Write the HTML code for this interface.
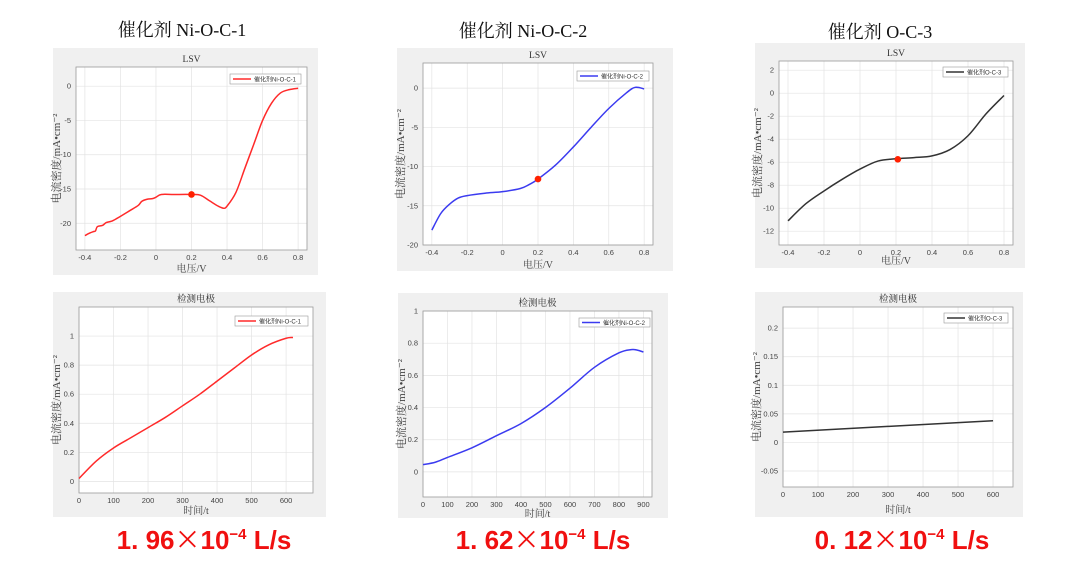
<!DOCTYPE html>
<html><head><meta charset="utf-8"><style>
html,body{margin:0;padding:0;background:#fff;}
svg{display:block;}
.rate{font-family:"Liberation Sans","Noto Sans CJK SC",sans-serif;font-size:26px;font-weight:bold;fill:#f01010;}
</style></head><body>
<svg id="fig" width="1080" height="573" viewBox="0 0 1080 573" xmlns="http://www.w3.org/2000/svg">
<text x="182" y="36" text-anchor="middle" font-family="Liberation Serif,'Noto Serif CJK SC',serif" font-size="18" fill="#111">催化剂 Ni-O-C-1</text>
<text x="523" y="37" text-anchor="middle" font-family="Liberation Serif,'Noto Serif CJK SC',serif" font-size="18" fill="#111">催化剂 Ni-O-C-2</text>
<text x="880" y="38" text-anchor="middle" font-family="Liberation Serif,'Noto Serif CJK SC',serif" font-size="18" fill="#111">催化剂 O-C-3</text>
<text x="204" y="549" text-anchor="middle" class="rate">1. 96<tspan font-family="Noto Sans CJK SC,sans-serif" font-weight="normal">×</tspan>10<tspan font-size="15" dy="-10">−4</tspan><tspan dy="10"> L/s</tspan></text>
<text x="543" y="549" text-anchor="middle" class="rate">1. 62<tspan font-family="Noto Sans CJK SC,sans-serif" font-weight="normal">×</tspan>10<tspan font-size="15" dy="-10">−4</tspan><tspan dy="10"> L/s</tspan></text>
<text x="902" y="549" text-anchor="middle" class="rate">0. 12<tspan font-family="Noto Sans CJK SC,sans-serif" font-weight="normal">×</tspan>10<tspan font-size="15" dy="-10">−4</tspan><tspan dy="10"> L/s</tspan></text>
</svg>
<script>
// ---- data ----
const p1x=[-0.4,-0.37,-0.35,-0.34,-0.33,-0.3,-0.28,-0.25,-0.22,-0.2,-0.15,-0.1,-0.08,-0.05,-0.02,0,0.03,0.1,0.2,0.25,0.3,0.35,0.38,0.4,0.45,0.5,0.55,0.6,0.65,0.7,0.75,0.8];
const p1y=[-21.8,-21.4,-21.2,-21.1,-20.5,-20.3,-19.9,-19.7,-19.3,-19.0,-18.2,-17.4,-16.8,-16.5,-16.4,-16.2,-15.8,-15.8,-15.8,-15.9,-16.7,-17.5,-17.8,-17.5,-15.5,-12.0,-8.5,-5.0,-2.5,-1.0,-0.5,-0.3];
const p1mark=[0.2,-15.8];
const p2x=[-0.4,-0.35,-0.3,-0.25,-0.2,-0.1,0,0.1,0.15,0.2,0.3,0.4,0.5,0.6,0.7,0.75,0.8];
const p2y=[-18.1,-16.0,-14.8,-14.0,-13.7,-13.4,-13.2,-12.8,-12.3,-11.6,-9.8,-7.5,-5.0,-2.6,-0.6,0.1,-0.1];
const p2mark=[0.2,-11.6];
const p3x=[-0.4,-0.3,-0.2,-0.1,0,0.1,0.2,0.3,0.4,0.5,0.6,0.7,0.8];
const p3y=[-11.1,-9.6,-8.5,-7.5,-6.6,-5.9,-5.7,-5.6,-5.45,-4.9,-3.7,-1.8,-0.2];
const p3mark=[0.21,-5.75];
const p4x=[0,50,100,150,200,250,300,350,400,450,500,550,600,620];
const p4y=[0.02,0.14,0.23,0.30,0.37,0.44,0.52,0.60,0.69,0.78,0.87,0.94,0.985,0.99];
const p5x=[0,50,100,200,300,400,500,600,700,800,850,875,900];
const p5y=[0.045,0.06,0.09,0.15,0.225,0.30,0.40,0.52,0.65,0.74,0.76,0.757,0.745];
const p6x=[0,600];
const p6y=[0.018,0.038];
const lsvXTicks=[-0.4,-0.2,0,0.2,0.4,0.6,0.8];
const p1YTicks=[-20,-15,-10,-5,0];
const p2YTicks=[-20,-15,-10,-5,0];
const p3YTicks=[-12,-10,-8,-6,-4,-2,0,2];
const p4XTicks=[0,100,200,300,400,500,600];
const p5XTicks=[0,100,200,300,400,500,600,700,800,900];
const p6XTicks=[0,100,200,300,400,500,600];
const p4YTicks=[0,0.2,0.4,0.6,0.8,1];
const p5YTicks=[0,0.2,0.4,0.6,0.8,1];
const p6YTicks=[-0.05,0,0.05,0.1,0.15,0.2];

const NS='http://www.w3.org/2000/svg';
const svg=document.getElementById('fig');
function mk(tag,attrs,parent){const e=document.createElementNS(NS,tag);for(const k in attrs)e.setAttribute(k,attrs[k]);(parent||svg).appendChild(e);return e;}
function fmt(v){return (Math.round(v*1000)/1000).toString();}
function smooth(pts){let d='M'+pts[0][0]+','+pts[0][1];for(let i=0;i<pts.length-1;i++){const p0=pts[i-1]||pts[i],p1=pts[i],p2=pts[i+1],p3=pts[i+2]||p2;const c1=[p1[0]+(p2[0]-p0[0])/6,p1[1]+(p2[1]-p0[1])/6],c2=[p2[0]-(p3[0]-p1[0])/6,p2[1]-(p3[1]-p1[1])/6];d+=' C'+c1+' '+c2+' '+p2;}return d;}

function panel(c){
  const g=mk('g',{});
  
  
  const bg=mk('rect',{x:c.gx,y:c.gy,width:c.gw,height:c.gh,fill:'#f0f0f0'},g);
  
  
  const L=c.l,R=c.r,T=c.t,B=c.b;
  const sx=v=>L+(v-c.xmin)/(c.xmax-c.xmin)*(R-L);
  const sy=v=>B-(v-c.ymin)/(c.ymax-c.ymin)*(B-T);
  const pa=mk('rect',{x:L,y:T,width:R-L,height:B-T,fill:'#fff'},g);
  
  
  const tf='Liberation Sans,sans-serif';
  c.xt.forEach(v=>{const x=sx(v);
    const gl=mk('line',{x1:x,x2:x,y1:T,y2:B,stroke:'#e3e3e3','stroke-width':0.7},g);
    
    
    const t=mk('text',{x:x,y:B+10,'text-anchor':'middle','font-family':tf,'font-size':7.5,fill:'#444'},g);
    t.textContent=fmt(v);
    
    });
  c.yt.forEach(v=>{const y=sy(v);
    const gl=mk('line',{x1:L,x2:R,y1:y,y2:y,stroke:'#e3e3e3','stroke-width':0.7},g);
    
    
    const t=mk('text',{x:L-5,y:y+2.5,'text-anchor':'end','font-family':tf,'font-size':7.5,fill:'#444'},g);
    t.textContent=fmt(v);
    
    });
  const bx=mk('rect',{x:L,y:T,width:R-L,height:B-T,fill:'none',stroke:'#9a9a9a','stroke-width':0.8},g);
  
  
  const pts=c.xs.map((v,i)=>[sx(v),sy(c.ys[i])]);
  const ln=mk('path',{d:smooth(pts),fill:'none',stroke:c.col,'stroke-width':1.5},g);
  
  
  if(c.mark){const m=mk('circle',{cx:sx(c.mark[0]),cy:sy(c.mark[1]),r:3.3,fill:'#ff2000'},g);
    
    }
  const sf="Liberation Serif,'Noto Serif CJK SC',serif";
  const tt=mk('text',{x:(L+R)/2,y:T-5,'text-anchor':'middle','font-family':sf,'font-size':9.5,fill:'#333'},g);
  tt.textContent=c.title;
  
  
  const xl=mk('text',{x:(L+R)/2,y:c.xly,'text-anchor':'middle','font-family':sf,'font-size':10,fill:'#444'},g);
  xl.textContent=c.xlabel;
  
  
  const yx=c.ylx,yy=(T+B)/2;
  const yl=mk('text',{x:yx,y:yy,'text-anchor':'middle','font-family':sf,'font-size':11,fill:'#444',transform:'rotate(-90 '+yx+' '+yy+')'},g);
  yl.textContent='电流密度/mA•cm⁻²';
  
  
  const lg=mk('g',{},g);
  
  
  mk('rect',{x:c.lg[0],y:c.lg[1],width:c.lg[2],height:c.lg[3],fill:'#fff',stroke:'#999','stroke-width':0.6},lg);
  mk('line',{x1:c.lg[0]+3,x2:c.lg[0]+21,y1:c.lg[1]+c.lg[3]/2,y2:c.lg[1]+c.lg[3]/2,stroke:c.col,'stroke-width':1.4},lg);
  const lt=mk('text',{x:c.lg[0]+24,y:c.lg[1]+c.lg[3]/2+2.3,'font-family':"Liberation Sans,'Noto Sans CJK SC',sans-serif",'font-size':6,fill:'#333'},lg);
  lt.textContent=c.leg;
  
  
}
panel({name:'lsv-ni-o-c-1',gx:53,gy:48,gw:265,gh:227,l:76,r:307,t:67,b:250,xmin:-0.45,xmax:0.85,ymin:-23.9,ymax:2.8,xt:lsvXTicks,yt:p1YTicks,xs:p1x,ys:p1y,mark:p1mark,col:'#ff2a2a',title:'LSV',xlabel:'电压/V',xly:272,ylx:60,lg:[230,74,71,10],leg:'催化剂Ni-O-C-1'});
panel({name:'lsv-ni-o-c-2',gx:397,gy:48,gw:276,gh:223,l:423,r:653,t:63,b:245,xmin:-0.45,xmax:0.85,ymin:-20,ymax:3.2,xt:lsvXTicks,yt:p2YTicks,xs:p2x,ys:p2y,mark:p2mark,col:'#3b3bf0',title:'LSV',xlabel:'电压/V',xly:268,ylx:404,lg:[577,71,72,10],leg:'催化剂Ni-O-C-2'});
panel({name:'lsv-o-c-3',gx:755,gy:43,gw:270,gh:225,l:779,r:1013,t:61,b:245,xmin:-0.45,xmax:0.85,ymin:-13.2,ymax:2.8,xt:lsvXTicks,yt:p3YTicks,xs:p3x,ys:p3y,mark:p3mark,col:'#333333',title:'LSV',xlabel:'电压/V',xly:264,ylx:761,lg:[943,67,65,10],leg:'催化剂O-C-3'});
panel({name:'electrode-ni-o-c-1',gx:53,gy:292,gw:273,gh:225,l:79,r:313,t:307,b:493,xmin:0,xmax:678,ymin:-0.08,ymax:1.2,xt:p4XTicks,yt:p4YTicks,xs:p4x,ys:p4y,col:'#ff2a2a',title:'检测电极',xlabel:'时间/t',xly:514,ylx:60,lg:[235,316,73,10],leg:'催化剂Ni-O-C-1'});
panel({name:'electrode-ni-o-c-2',gx:398,gy:293,gw:270,gh:225,l:423,r:652,t:311,b:497,xmin:0,xmax:935,ymin:-0.156,ymax:1.0,xt:p5XTicks,yt:p5YTicks,xs:p5x,ys:p5y,col:'#3b3bf0',title:'检测电极',xlabel:'时间/t',xly:517,ylx:405,lg:[579,318,71,9],leg:'催化剂Ni-O-C-2'});
panel({name:'electrode-o-c-3',gx:755,gy:292,gw:268,gh:225,l:783,r:1013,t:307,b:487,xmin:0,xmax:657,ymin:-0.078,ymax:0.237,xt:p6XTicks,yt:p6YTicks,xs:p6x,ys:p6y,col:'#333333',title:'检测电极',xlabel:'时间/t',xly:513,ylx:760,lg:[944,313,64,10],leg:'催化剂O-C-3'});
</script>
</body></html>
